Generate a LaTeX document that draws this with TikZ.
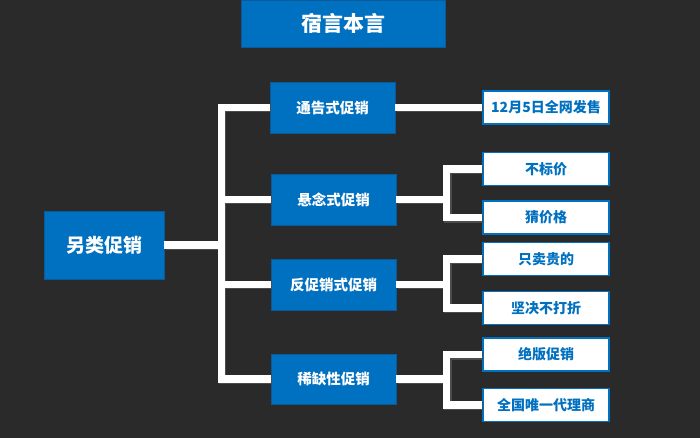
\documentclass[tikz,border=0pt]{standalone}
\usepackage{fontspec}
\newfontfamily\cjk{Noto Sans CJK SC}
\definecolor{bg}{HTML}{2A2A2A}
\definecolor{mblue}{HTML}{0070C0}
\definecolor{dblue}{HTML}{0A5A9A}
\newcommand\mywires[1]{%
  \draw[#1] (m1.west) -- (m1.west -| tk) -- (m4.west -| tk) -- (m4.west);
  \draw[#1] (main.east) -- (main.east -| tk);
  \draw[#1] (m2.west) -- (m2.west -| tk);
  \draw[#1] (m3.west) -- (m3.west -| tk);
  \draw[#1] (m1.east) -- (l1.west);
  \draw[#1] (l2.west) -- (l2.west -| st) -- (l3.west -| st) -- (l3.west);
  \draw[#1] (m2.east) -- (m2.east -| st);
  \draw[#1] (l4.west) -- (l4.west -| st) -- (l5.west -| st) -- (l5.west);
  \draw[#1] (m3.east) -- (m3.east -| st);
  \draw[#1] (l6.west) -- (l6.west -| st) -- (l7.west -| st) -- (l7.west);
  \draw[#1] (m4.east) -- (m4.east -| st);
}
\begin{document}
\begin{tikzpicture}[x=1pt,y=-1pt,
  blueb/.style={rectangle,fill=mblue,draw=dblue,line width=0.8pt,text=white,font=\cjk\bfseries,inner sep=0pt},
  leafb/.style={rectangle,fill=white,draw=mblue,line width=1.5pt,text=mblue,font=\cjk\bfseries\fontsize{14}{16}\selectfont,minimum width=126pt,minimum height=33pt,inner sep=0pt},
  midb/.style={blueb,minimum width=125pt,minimum height=51pt,font=\cjk\bfseries\fontsize{14.5}{16}\selectfont},
  wireshadow/.style={draw=black!70,line width=7.5pt,line join=miter,transform canvas={shift={(1.2pt,-1.2pt)}}},
  wire/.style={draw=white,line width=7.5pt,line join=miter}
]
\useasboundingbox (0,0) rectangle (700,438);
\fill[bg] (0,0) rectangle (700,438);

\node[blueb,minimum width=204pt,minimum height=47pt,font=\cjk\bfseries\fontsize{21}{24}\selectfont] (title) at (343,23.5) {宿言本言};
\node[blueb,minimum width=120pt,minimum height=68pt,font=\cjk\bfseries\fontsize{19}{22}\selectfont] (main) at (104,245) {另类促销};

\node[midb] (m1) at (332.5,107.5) {通告式促销};
\node[midb] (m2) at (333.5,199.5) {悬念式促销};
\node[midb] (m3) at (333.5,284.5) {反促销式促销};
\node[midb,minimum height=50pt] (m4) at (333.5,379) {稀缺性促销};

\node[leafb] (l1) at (546,107.5) {12月5日全网发售};
\node[leafb] (l2) at (546,169) {不标价};
\node[leafb] (l3) at (546,217.7) {猜价格};
\node[leafb] (l4) at (546,259) {只卖贵的};
\node[leafb] (l5) at (546,308) {坚决不打折};
\node[leafb] (l6) at (546,354.7) {绝版促销};
\node[leafb] (l7) at (546,405) {全国唯一代理商};

\coordinate (tk) at (221.5,0);
\coordinate (st) at (446.7,0);
\mywires{wireshadow}
\mywires{wire}
\end{tikzpicture}
\end{document}
